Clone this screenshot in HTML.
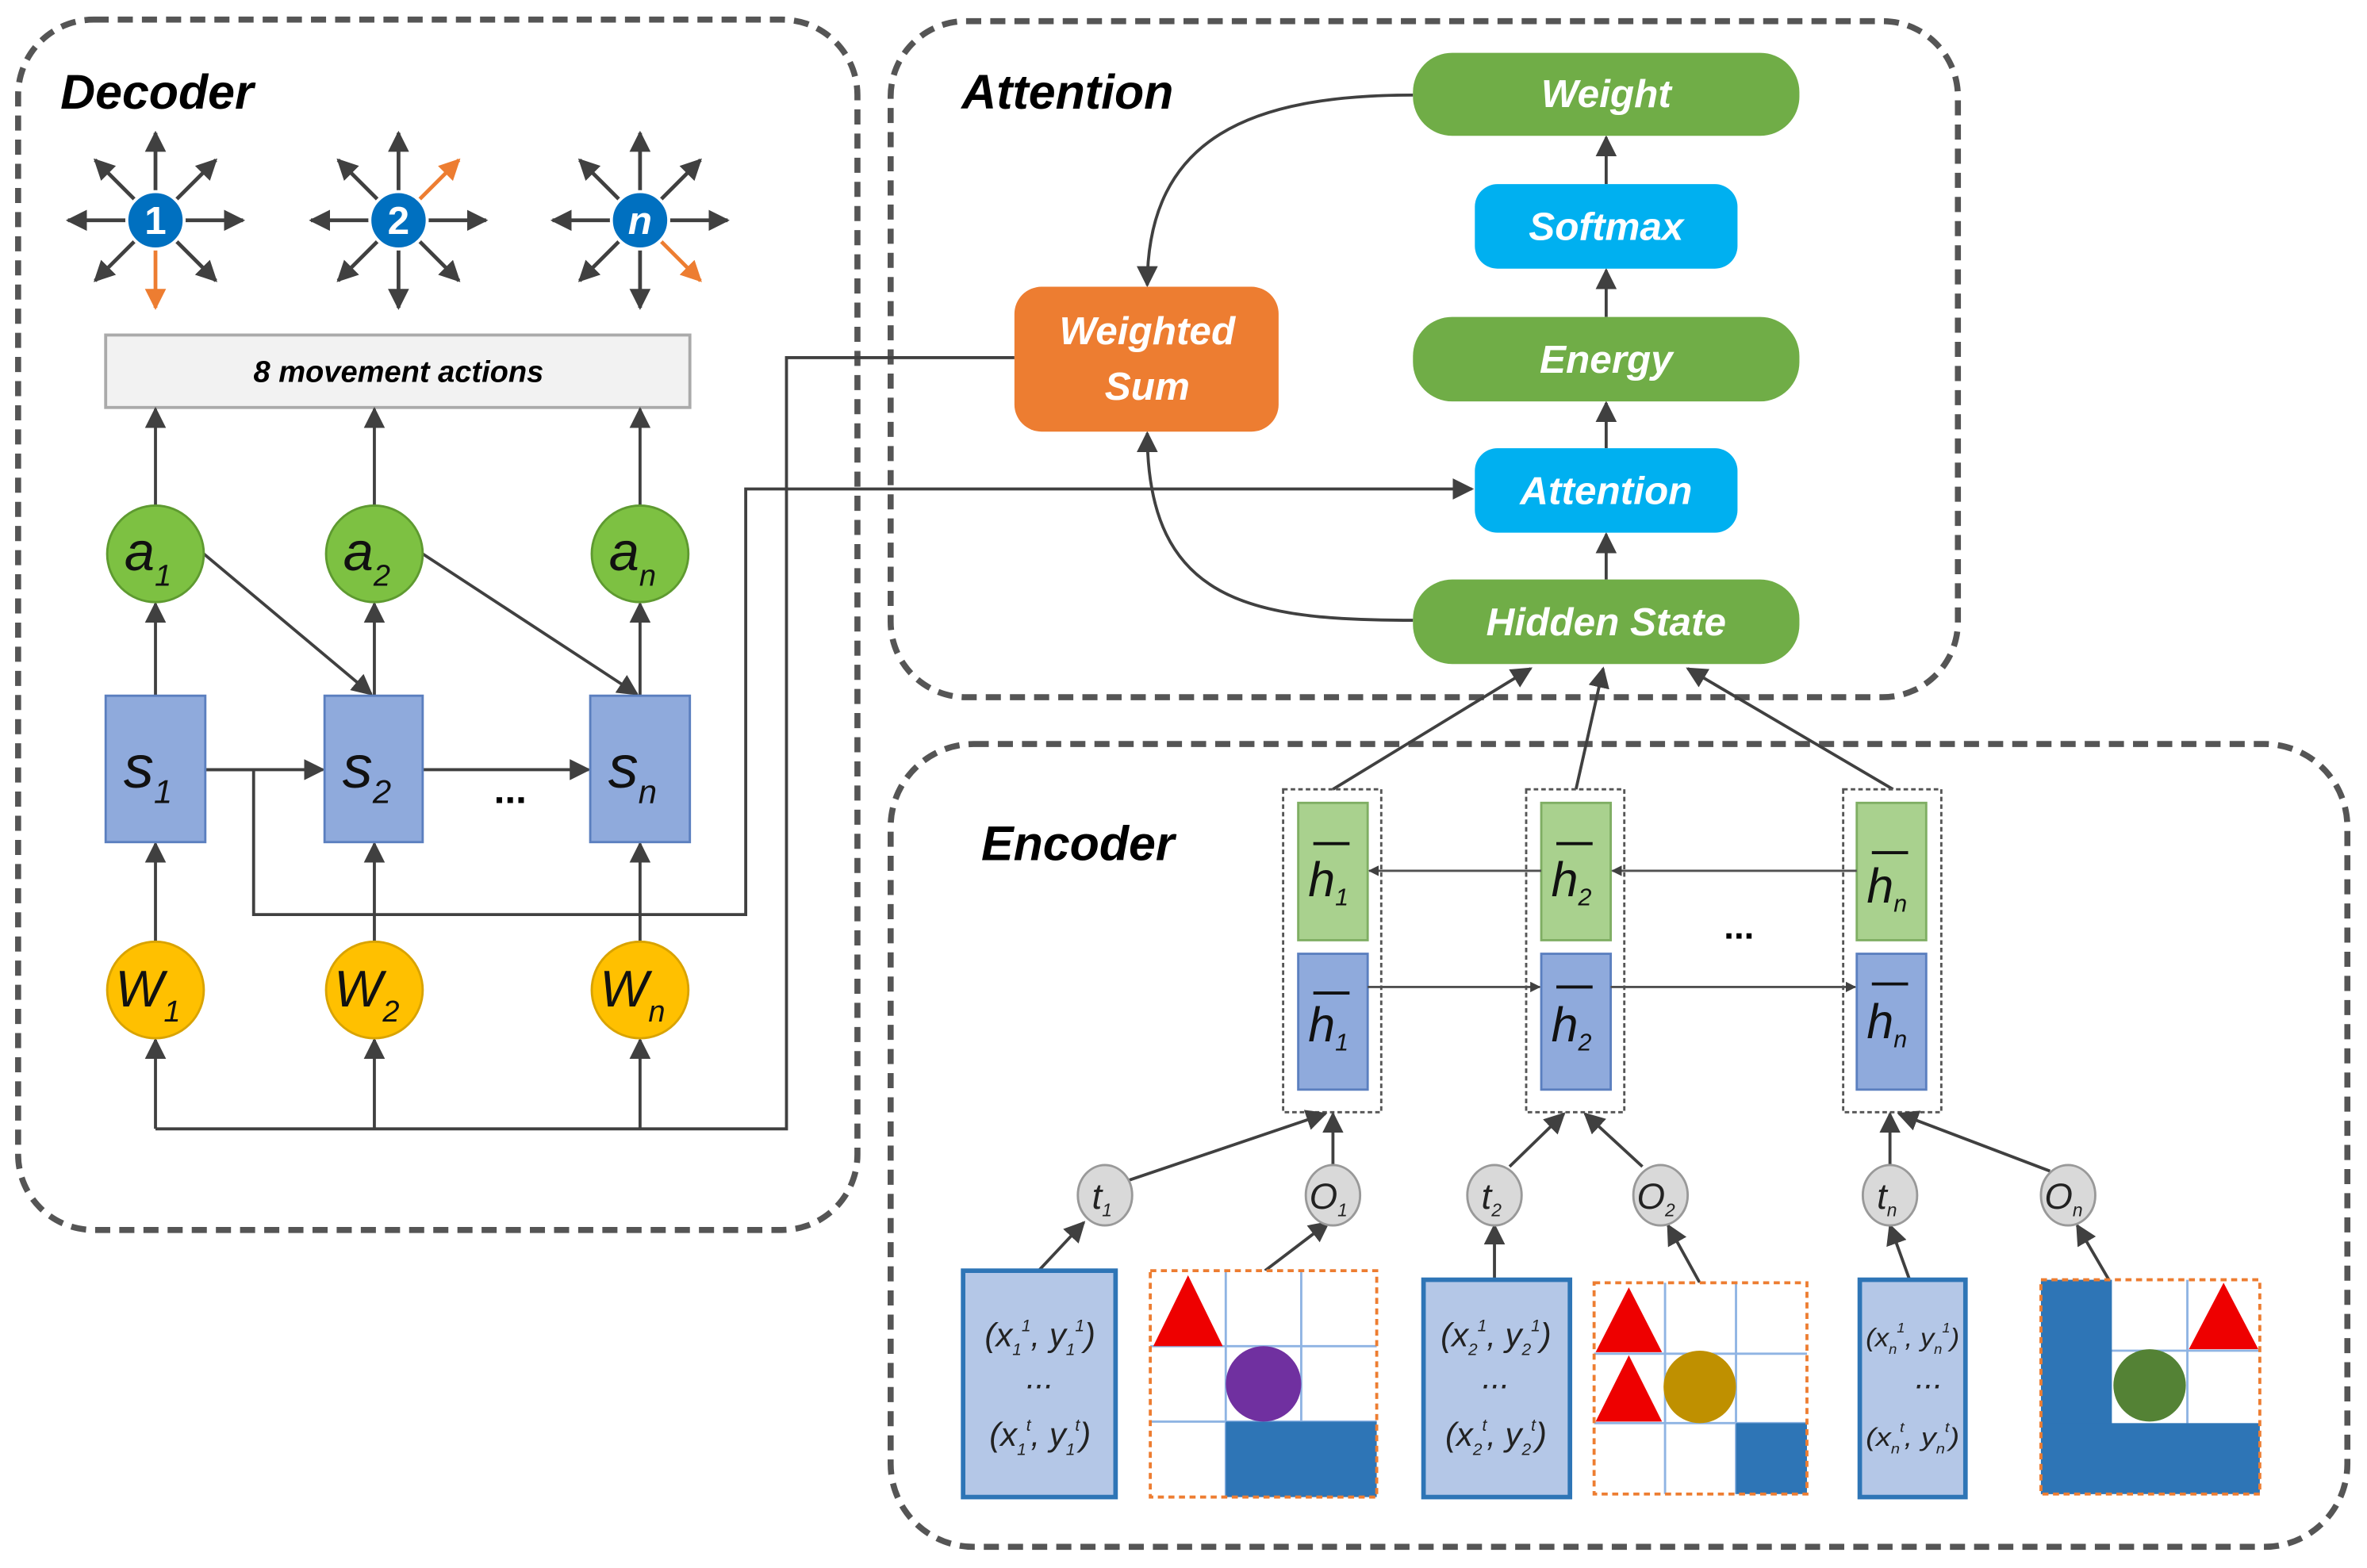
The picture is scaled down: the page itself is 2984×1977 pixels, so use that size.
<!DOCTYPE html>
<html><head><meta charset="utf-8"><style>
html,body{margin:0;padding:0;background:#fff}
svg{display:block}
text{font-family:"Liberation Sans","DejaVu Sans",sans-serif}
.lb{font-weight:bold;font-style:italic;fill:#fff;font-size:26px;text-anchor:middle}
.ttl{font-weight:bold;font-style:italic;fill:#000;font-size:32px}
.v{font-family:"Liberation Serif",serif;font-style:italic;text-anchor:middle}
</style></head><body>
<svg width="2984" height="1977" viewBox="0 0 1568 1039" preserveAspectRatio="none" xmlns="http://www.w3.org/2000/svg">
<defs>
<marker id="a" viewBox="0 0 10 10" refX="9" refY="5" markerWidth="7" markerHeight="7" markerUnits="userSpaceOnUse" orient="auto"><path d="M0,0L10,5L0,10z" fill="#404040"/></marker>
<marker id="b" viewBox="0 0 10 10" refX="9" refY="5" markerWidth="14" markerHeight="14" markerUnits="userSpaceOnUse" orient="auto"><path d="M0,0L10,5L0,10z" fill="#404040"/></marker>
<marker id="o" viewBox="0 0 10 10" refX="9" refY="5" markerWidth="14" markerHeight="14" markerUnits="userSpaceOnUse" orient="auto"><path d="M0,0L10,5L0,10z" fill="#ed7d31"/></marker>
</defs>
<g fill="none" stroke="#555" stroke-width="4" stroke-dasharray="10,6">
<rect x="12" y="13" width="556" height="802" rx="50"/>
<rect x="590" y="14" width="707" height="448" rx="50"/>
<rect x="590" y="493" width="965" height="532" rx="55"/>
</g>
<text class="ttl" x="40" y="72">Decoder</text>
<text class="ttl" x="637" y="72">Attention</text>
<text class="ttl" x="650" y="570">Encoder</text>

<g stroke="#404040" stroke-width="2.5">
<g transform="translate(103,146)">
<line x1="0" y1="0" x2="0" y2="-58" marker-end="url(#b)"/><line x1="0" y1="0" x2="0" y2="58" stroke="#ed7d31" marker-end="url(#o)"/>
<line x1="0" y1="0" x2="-58" y2="0" marker-end="url(#b)"/><line x1="0" y1="0" x2="58" y2="0" marker-end="url(#b)"/>
<line x1="0" y1="0" x2="-40" y2="-40" marker-end="url(#b)"/><line x1="0" y1="0" x2="40" y2="-40" marker-end="url(#b)"/>
<line x1="0" y1="0" x2="-40" y2="40" marker-end="url(#b)"/><line x1="0" y1="0" x2="40" y2="40" marker-end="url(#b)"/>
</g>
<g transform="translate(264,146)">
<line x1="0" y1="0" x2="0" y2="-58" marker-end="url(#b)"/><line x1="0" y1="0" x2="0" y2="58" marker-end="url(#b)"/>
<line x1="0" y1="0" x2="-58" y2="0" marker-end="url(#b)"/><line x1="0" y1="0" x2="58" y2="0" marker-end="url(#b)"/>
<line x1="0" y1="0" x2="-40" y2="-40" marker-end="url(#b)"/><line x1="0" y1="0" x2="40" y2="-40" stroke="#ed7d31" marker-end="url(#o)"/>
<line x1="0" y1="0" x2="-40" y2="40" marker-end="url(#b)"/><line x1="0" y1="0" x2="40" y2="40" marker-end="url(#b)"/>
</g>
<g transform="translate(424,146)">
<line x1="0" y1="0" x2="0" y2="-58" marker-end="url(#b)"/><line x1="0" y1="0" x2="0" y2="58" marker-end="url(#b)"/>
<line x1="0" y1="0" x2="-58" y2="0" marker-end="url(#b)"/><line x1="0" y1="0" x2="58" y2="0" marker-end="url(#b)"/>
<line x1="0" y1="0" x2="-40" y2="-40" marker-end="url(#b)"/><line x1="0" y1="0" x2="40" y2="-40" marker-end="url(#b)"/>
<line x1="0" y1="0" x2="-40" y2="40" marker-end="url(#b)"/><line x1="0" y1="0" x2="40" y2="40" stroke="#ed7d31" marker-end="url(#o)"/>
</g>
</g>
<g fill="#0070c0" stroke="#fff" stroke-width="2">
<circle cx="103" cy="146" r="19"/><circle cx="264" cy="146" r="19"/><circle cx="424" cy="146" r="19"/>
</g>
<g font-weight="bold" font-size="26" fill="#fff" text-anchor="middle">
<text x="103" y="155">1</text><text x="264" y="155">2</text><text x="424" y="155" font-style="italic">n</text>
</g>

<rect x="70" y="222" width="387" height="48" fill="#f2f2f2" stroke="#aaa" stroke-width="2"/>
<text x="264" y="253" font-size="20" font-weight="bold" font-style="italic" text-anchor="middle">8 movement actions</text>

<g stroke="#404040" stroke-width="2" fill="none">
<line x1="103" y1="335" x2="103" y2="271" marker-end="url(#b)"/>
<line x1="248" y1="335" x2="248" y2="271" marker-end="url(#b)"/>
<line x1="424" y1="335" x2="424" y2="271" marker-end="url(#b)"/>
<line x1="103" y1="461" x2="103" y2="400" marker-end="url(#b)"/>
<line x1="248" y1="461" x2="248" y2="400" marker-end="url(#b)"/>
<line x1="424" y1="461" x2="424" y2="400" marker-end="url(#b)"/>
<line x1="135" y1="367" x2="246" y2="460" marker-end="url(#b)"/>
<line x1="280" y1="367" x2="422" y2="460" marker-end="url(#b)"/>
<line x1="103" y1="624" x2="103" y2="559" marker-end="url(#b)"/>
<line x1="248" y1="624" x2="248" y2="559" marker-end="url(#b)"/>
<line x1="424" y1="624" x2="424" y2="559" marker-end="url(#b)"/>
<line x1="136" y1="510" x2="214" y2="510" marker-end="url(#b)"/>
<line x1="280" y1="510" x2="390" y2="510" marker-end="url(#b)"/>
<line x1="103" y1="748" x2="103" y2="689" marker-end="url(#b)"/>
<line x1="248" y1="748" x2="248" y2="689" marker-end="url(#b)"/>
<line x1="424" y1="748" x2="424" y2="689" marker-end="url(#b)"/>
<polyline points="103,748 521,748 521,237 672,237"/>
<polyline points="136,510 168,510 168,606 494,606 494,324 975,324" marker-end="url(#b)"/>
</g>
<text x="338" y="532" font-size="26" font-weight="bold" text-anchor="middle">...</text>

<g fill="#7dc142" stroke="#5e9a30" stroke-width="1.5">
<ellipse cx="103" cy="367" rx="32" ry="32"/><ellipse cx="248" cy="367" rx="32" ry="32"/><ellipse cx="424" cy="367" rx="32" ry="32"/>
</g>
<g fill="#8faadc" stroke="#5b7fbf" stroke-width="1.5">
<rect x="70" y="461" width="66" height="97"/><rect x="215" y="461" width="65" height="97"/><rect x="391" y="461" width="66" height="97"/>
</g>
<g fill="#ffc000" stroke="#d9a300" stroke-width="1.5">
<circle cx="103" cy="656" r="32"/><circle cx="248" cy="656" r="32"/><circle cx="424" cy="656" r="32"/>
</g>
<g class="v" fill="#111">
<text x="98" y="378" font-size="36">a<tspan font-size="20" dy="10">1</tspan></text>
<text x="243" y="378" font-size="36">a<tspan font-size="20" dy="10">2</tspan></text>
<text x="419" y="378" font-size="36">a<tspan font-size="20" dy="10">n</tspan></text>
<text x="98" y="522" font-size="40">s<tspan font-size="22" dy="10">1</tspan></text>
<text x="243" y="522" font-size="40">s<tspan font-size="22" dy="10">2</tspan></text>
<text x="419" y="522" font-size="40">s<tspan font-size="22" dy="10">n</tspan></text>
<text x="98" y="667" font-size="34">W<tspan font-size="20" dy="10">1</tspan></text>
<text x="243" y="667" font-size="34">W<tspan font-size="20" dy="10">2</tspan></text>
<text x="419" y="667" font-size="34">W<tspan font-size="20" dy="10">n</tspan></text>
</g>

<g stroke="#404040" stroke-width="2" fill="none">
<line x1="1064" y1="122" x2="1064" y2="91" marker-end="url(#b)"/>
<line x1="1064" y1="210" x2="1064" y2="179" marker-end="url(#b)"/>
<line x1="1064" y1="297" x2="1064" y2="267" marker-end="url(#b)"/>
<line x1="1064" y1="384" x2="1064" y2="354" marker-end="url(#b)"/>
<path d="M936,63 C830,63 760,90 760,189" marker-end="url(#b)"/>
<path d="M936,411 C830,411 760,400 760,287" marker-end="url(#b)"/>
</g>
<rect x="936" y="35" width="256" height="55" rx="26" fill="#70ad47"/>
<rect x="977" y="122" width="174" height="56" rx="15" fill="#00b0f0"/>
<rect x="936" y="210" width="256" height="56" rx="26" fill="#70ad47"/>
<rect x="977" y="297" width="174" height="56" rx="15" fill="#00b0f0"/>
<rect x="936" y="384" width="256" height="56" rx="26" fill="#70ad47"/>
<rect x="672" y="190" width="175" height="96" rx="18" fill="#ed7d31"/>
<text class="lb" x="1064" y="71">Weight</text>
<text class="lb" x="1064" y="159">Softmax</text>
<text class="lb" x="1064" y="247">Energy</text>
<text class="lb" x="1064" y="334">Attention</text>
<text class="lb" x="1064" y="421">Hidden State</text>
<text class="lb" x="760" y="228">Weighted</text>
<text class="lb" x="760" y="265">Sum</text>

<g stroke="#404040" stroke-width="2" fill="none">
<line x1="883" y1="523" x2="1014" y2="443" marker-end="url(#b)"/>
<line x1="1044" y1="523" x2="1062" y2="443" marker-end="url(#b)"/>
<line x1="1254" y1="523" x2="1118" y2="443" marker-end="url(#b)"/>
</g>
<g fill="none" stroke="#555" stroke-width="1.5" stroke-dasharray="3,2">
<rect x="850" y="523" width="65" height="214"/><rect x="1011" y="523" width="65" height="214"/><rect x="1221" y="523" width="65" height="214"/>
</g>
<g fill="#a9d18e" stroke="#7fae63" stroke-width="1.5">
<rect x="860" y="532" width="46" height="91"/><rect x="1021" y="532" width="46" height="91"/><rect x="1230" y="532" width="46" height="91"/>
</g>
<g fill="#8faadc" stroke="#5b7fbf" stroke-width="1.5">
<rect x="860" y="632" width="46" height="90"/><rect x="1021" y="632" width="46" height="90"/><rect x="1230" y="632" width="46" height="90"/>
</g>
<g stroke="#505050" stroke-width="1.5" fill="none">
<line x1="1021" y1="577" x2="907" y2="577" marker-end="url(#a)"/>
<line x1="1230" y1="577" x2="1068" y2="577" marker-end="url(#a)"/>
<line x1="906" y1="654" x2="1020" y2="654" marker-end="url(#a)"/>
<line x1="1067" y1="654" x2="1229" y2="654" marker-end="url(#a)"/>
</g>
<text x="1152" y="622" font-size="24" font-weight="bold" text-anchor="middle">...</text>
<g stroke="#111" stroke-width="2">
<line x1="870" y1="559" x2="894" y2="559"/><line x1="1031" y1="559" x2="1055" y2="559"/><line x1="1240" y1="565" x2="1264" y2="565"/>
<line x1="870" y1="658" x2="894" y2="658"/><line x1="1031" y1="654" x2="1055" y2="654"/><line x1="1240" y1="652" x2="1264" y2="652"/>
</g>
<g class="v" fill="#111" font-size="32">
<text x="880" y="594">h<tspan font-size="16" dy="6">1</tspan></text>
<text x="1041" y="594">h<tspan font-size="16" dy="6">2</tspan></text>
<text x="1250" y="598">h<tspan font-size="16" dy="6">n</tspan></text>
<text x="880" y="690">h<tspan font-size="16" dy="6">1</tspan></text>
<text x="1041" y="690">h<tspan font-size="16" dy="6">2</tspan></text>
<text x="1250" y="688">h<tspan font-size="16" dy="6">n</tspan></text>
</g>

<g stroke="#404040" stroke-width="2" fill="none">
<line x1="748" y1="782" x2="878" y2="738" marker-end="url(#b)"/>
<line x1="883" y1="772" x2="883" y2="738" marker-end="url(#b)"/>
<line x1="1000" y1="773" x2="1036" y2="738" marker-end="url(#b)"/>
<line x1="1088" y1="773" x2="1050" y2="738" marker-end="url(#b)"/>
<line x1="1252" y1="772" x2="1252" y2="738" marker-end="url(#b)"/>
<line x1="1358" y1="776" x2="1258" y2="738" marker-end="url(#b)"/>
<line x1="688" y1="842" x2="718" y2="810" marker-end="url(#b)"/>
<line x1="838" y1="842" x2="880" y2="810" marker-end="url(#b)"/>
<line x1="990" y1="848" x2="990" y2="812" marker-end="url(#b)"/>
<line x1="1126" y1="850" x2="1105" y2="812" marker-end="url(#b)"/>
<line x1="1265" y1="848" x2="1252" y2="812" marker-end="url(#b)"/>
<line x1="1397" y1="848" x2="1376" y2="812" marker-end="url(#b)"/>
</g>
<g fill="#d9d9d9" stroke="#999" stroke-width="1.5">
<ellipse cx="732" cy="792" rx="18" ry="20"/><ellipse cx="883" cy="792" rx="18" ry="20"/>
<ellipse cx="990" cy="792" rx="18" ry="20"/><ellipse cx="1100" cy="792" rx="18" ry="20"/>
<ellipse cx="1252" cy="792" rx="18" ry="20"/><ellipse cx="1370" cy="792" rx="18" ry="20"/>
</g>
<g class="v" fill="#222" font-size="24">
<text x="730" y="801">t<tspan font-size="12" dy="5">1</tspan></text>
<text x="880" y="801">O<tspan font-size="12" dy="5">1</tspan></text>
<text x="988" y="801">t<tspan font-size="12" dy="5">2</tspan></text>
<text x="1097" y="801">O<tspan font-size="12" dy="5">2</tspan></text>
<text x="1250" y="801">t<tspan font-size="12" dy="5">n</tspan></text>
<text x="1367" y="801">O<tspan font-size="12" dy="5">n</tspan></text>
</g>

<g fill="#b4c7e7" stroke="#2e75b6" stroke-width="3">
<rect x="638" y="842" width="101" height="150"/>
<rect x="943" y="848" width="97" height="144"/>
<rect x="1232" y="848" width="70" height="144"/>
</g>
<g class="v" fill="#222" font-size="22">
<text x="689" y="892">(x<tspan font-size="11" dy="6">1</tspan><tspan font-size="11" dy="-16">1</tspan><tspan dy="10">, y</tspan><tspan font-size="11" dy="6">1</tspan><tspan font-size="11" dy="-16">1</tspan><tspan dy="10">)</tspan></text>
<text x="689" y="920">...</text>
<text x="689" y="958">(x<tspan font-size="11" dy="6">1</tspan><tspan font-size="11" dy="-16">t</tspan><tspan dy="10">, y</tspan><tspan font-size="11" dy="6">1</tspan><tspan font-size="11" dy="-16">t</tspan><tspan dy="10">)</tspan></text>
<text x="991" y="892">(x<tspan font-size="11" dy="6">2</tspan><tspan font-size="11" dy="-16">1</tspan><tspan dy="10">, y</tspan><tspan font-size="11" dy="6">2</tspan><tspan font-size="11" dy="-16">1</tspan><tspan dy="10">)</tspan></text>
<text x="991" y="920">...</text>
<text x="991" y="958">(x<tspan font-size="11" dy="6">2</tspan><tspan font-size="11" dy="-16">t</tspan><tspan dy="10">, y</tspan><tspan font-size="11" dy="6">2</tspan><tspan font-size="11" dy="-16">t</tspan><tspan dy="10">)</tspan></text>
<text x="1236" y="892" font-size="17" text-anchor="start" textLength="62" lengthAdjust="spacingAndGlyphs">(x<tspan font-size="9" dy="5">n</tspan><tspan font-size="9" dy="-14">1</tspan><tspan dy="9">, y</tspan><tspan font-size="9" dy="5">n</tspan><tspan font-size="9" dy="-14">1</tspan><tspan dy="9">)</tspan></text>
<text x="1278" y="920">...</text>
<text x="1236" y="958" font-size="17" text-anchor="start" textLength="62" lengthAdjust="spacingAndGlyphs">(x<tspan font-size="9" dy="5">n</tspan><tspan font-size="9" dy="-14">t</tspan><tspan dy="9">, y</tspan><tspan font-size="9" dy="5">n</tspan><tspan font-size="9" dy="-14">t</tspan><tspan dy="9">)</tspan></text>
</g>

<g>
<rect x="762" y="842" width="150" height="150" fill="#fff"/>
<g stroke="#8fb4e3" stroke-width="1.5"><line x1="812" y1="842" x2="812" y2="992"/><line x1="862" y1="842" x2="862" y2="992"/><line x1="762" y1="892" x2="912" y2="892"/><line x1="762" y1="942" x2="912" y2="942"/></g>
<rect x="812" y="942" width="100" height="50" fill="#2e75b6"/>
<polygon points="787,845 764,892 810,892" fill="#e00"/>
<ellipse cx="837" cy="917" rx="25" ry="25" fill="#7030a0"/>
<rect x="762" y="842" width="150" height="150" fill="none" stroke="#ed7d31" stroke-width="2" stroke-dasharray="4,3"/>
</g>
<g>
<rect x="1056" y="850" width="141" height="140" fill="#fff"/>
<g stroke="#8fb4e3" stroke-width="1.5"><line x1="1103" y1="850" x2="1103" y2="990"/><line x1="1150" y1="850" x2="1150" y2="990"/><line x1="1056" y1="897" x2="1197" y2="897"/><line x1="1056" y1="943" x2="1197" y2="943"/></g>
<rect x="1150" y="943" width="47" height="47" fill="#2e75b6"/>
<polygon points="1079,853 1057,896 1101,896" fill="#e00"/>
<polygon points="1079,898 1057,942 1101,942" fill="#e00"/>
<ellipse cx="1126" cy="919" rx="24" ry="24" fill="#bf9000"/>
<rect x="1056" y="850" width="141" height="140" fill="none" stroke="#ed7d31" stroke-width="2" stroke-dasharray="4,3"/>
</g>
<g>
<rect x="1352" y="848" width="145" height="142" fill="#fff"/>
<g stroke="#8fb4e3" stroke-width="1.5"><line x1="1449" y1="848" x2="1449" y2="943"/><line x1="1398" y1="895" x2="1497" y2="895"/></g>
<rect x="1352" y="848" width="47" height="142" fill="#2e75b6"/>
<rect x="1352" y="943" width="145" height="47" fill="#2e75b6"/>
<polygon points="1473,850 1450,894 1496,894" fill="#e00"/>
<ellipse cx="1424" cy="918" rx="24" ry="24" fill="#548235"/>
<rect x="1352" y="848" width="145" height="142" fill="none" stroke="#ed7d31" stroke-width="2" stroke-dasharray="4,3"/>
</g>
</svg>
</body></html>
